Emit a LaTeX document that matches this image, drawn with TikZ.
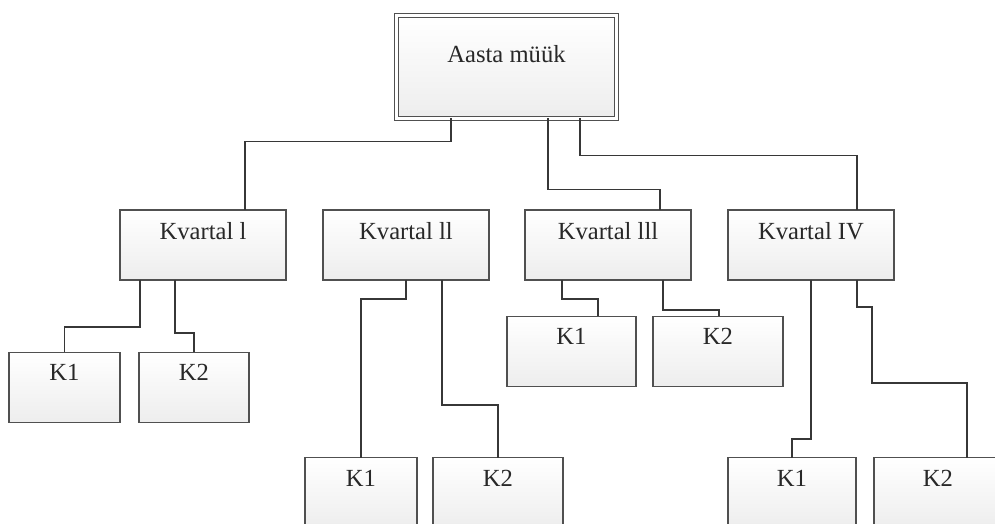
\documentclass[tikz,border=0pt]{standalone}
\usepackage{fontspec}
\setmainfont{Liberation Serif}
\usetikzlibrary{positioning,calc}
\definecolor{boxline}{RGB}{80,80,80}
\definecolor{linkline}{RGB}{55,55,55}
\definecolor{boxtext}{RGB}{40,40,40}

\begin{document}
\begin{tikzpicture}[x=0.02cm, y=-0.02cm,
    unit/.style={draw=boxline, line width=0.6pt, rectangle, inner sep=0pt, outer sep=0pt, top color=white, bottom color=black!7, minimum height=1.41cm},
    quarter/.style={unit, minimum width=3.32cm, minimum height=1.4cm},
    ktext/.style={anchor=north, inner sep=0pt, yshift=-0.24cm, text=boxtext, font=\fontsize{14}{16}\selectfont},
    link/.style={draw=linkline, line width=0.6pt}
]
\useasboundingbox (0,0) rectangle (995,524);
\clip (0,0) rectangle (995,524);

% Year box
\node[unit, double=white, double distance=1.8pt, minimum width=4.4cm, minimum height=2.06cm,
      label={[ktext, yshift=-0.36cm]north:Aasta müük}] (year) at (506.5,67) {};

% Quarters
\node[quarter, label={[ktext]north:Kvartal l}] (q1) at (203,245) {};
\node[quarter, label={[ktext]north:Kvartal ll}] (q2) at (406,245) {};
\node[quarter, label={[ktext]north:Kvartal lll}] (q3) at (608,245) {};
\node[quarter, label={[ktext]north:Kvartal IV}] (q4) at (811,245) {};

% Sub boxes
\node[unit, minimum width=2.22cm, label={[ktext]north:K1}] (q1k1) at (64.5,387.5) {};
\node[unit, minimum width=2.2cm, label={[ktext]north:K2}] (q1k2) at (194,387.5) {};
\node[unit, minimum width=2.24cm, label={[ktext]north:K1}] (q2k1) at (361,493) {};
\node[unit, minimum width=2.6cm, label={[ktext]north:K2}] (q2k2) at (498,493) {};
\node[unit, minimum width=2.58cm, label={[ktext]north:K1}] (q3k1) at (571.5,351.5) {};
\node[unit, minimum width=2.6cm, label={[ktext]north:K2}] (q3k2) at (718,351.5) {};
\node[unit, minimum width=2.56cm, label={[ktext]north:K1}] (q4k1) at (792,493) {};
\node[unit, minimum width=2.56cm, label={[ktext]north:K2}] (q4k2) at (938,493) {};

% Year to quarters
\draw[link] ([shift={(-55.5,0)}]year.south) -- ++(0,23) -| ([shift={(42,0)}]q1.north);
\draw[link] ([shift={(41.5,0)}]year.south) -- ++(0,71) -| ([shift={(52,0)}]q3.north);
\draw[link] ([shift={(73.5,0)}]year.south) -- ++(0,37) -| ([shift={(46,0)}]q4.north);

% Quarters to sub boxes
\draw[link] ([shift={(-63,0)}]q1.south) -- ++(0,47) -| (q1k1.north);
\draw[link] ([shift={(-28,0)}]q1.south) -- ++(0,53) -| (q1k2.north);
\draw[link] (q2.south) -- ++(0,19) -| (q2k1.north);
\draw[link] ([shift={(36,0)}]q2.south) -- ++(0,125) -| (q2k2.north);
\draw[link] ([shift={(-46,0)}]q3.south) -- ++(0,19) -| ([shift={(26.5,0)}]q3k1.north);
\draw[link] ([shift={(55,0)}]q3.south) -- ++(0,30) -| ([shift={(1,0)}]q3k2.north);
\draw[link] (q4.south) -- ++(0,159) -| (q4k1.north);
\draw[link] ([shift={(46,0)}]q4.south) -- ++(0,27) -- ++(15,0) -- ++(0,76) -| ([shift={(29,0)}]q4k2.north);

\end{tikzpicture}
\end{document}
